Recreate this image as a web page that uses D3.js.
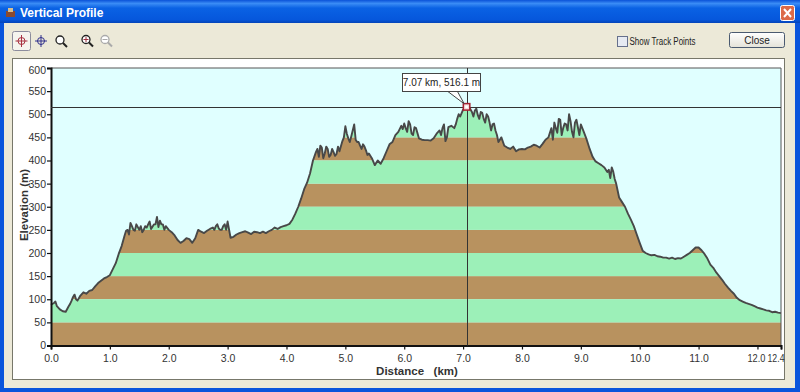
<!DOCTYPE html>
<html>
<head>
<meta charset="utf-8">
<script src="https://cdn.jsdelivr.net/npm/d3@7"></script>
<style>
  html, body { margin: 0; padding: 0; background: #ece9d8; overflow: hidden; }
  svg { display: block; }
  text { font-family: "Liberation Sans", sans-serif; }
</style>
</head>
<body>
<div id="visual"></div>
<script>
// elevation in metres, one reading every 0.05 km
const elevation = [
  88,92,85,78,74,73,85,97,110,97, 108,115,112,118,120,128,135,140,145,148,
  152,165,178,198,215,238,250,265,250,262, 250,245,258,262,252,262,278,270,262,258,
  250,245,238,228,222,226,232,230,222,232, 250,246,243,248,252,255,258,253,250,262,
  268,233,235,240,243,245,247,244,241,246, 245,243,246,243,247,250,255,252,256,258,
  260,263,272,285,300,318,338,352,372,400, 418,408,428,415,425,412,418,414,420,442,
  474,448,452,478,440,432,435,422,415,405, 390,400,393,405,420,435,440,455,462,475,
  480,462,478,455,470,448,445,444,444,443, 448,458,465,470,442,472,475,470,490,495,
  510,512,516,505,508,498,505,490,500,482, 478,465,440,450,432,428,425,430,420,424,
  425,424,428,430,434,432,428,436,445,450, 470,482,460,488,470,478,500,462,482,472,
  478,462,445,425,408,398,394,390,385,375, 362,376,350,320,310,300,285,272,258,240,
  222,205,200,197,195,196,193,192,190,190, 188,190,187,189,188,192,196,200,206,212,
  212,206,198,188,175,168,158,150,142,133, 125,118,112,103,98,95,92,90,88,85,
  82,80,78,76,75,72,73,71,70
];
const distance_step = 0.05;

// extra readings in the rough stretches of the track: [km, m]
const rough_readings = [
  [0.075,95],[0.325,90],[0.375,105],[0.425,100],
  [1.275,248],[1.325,240],[1.375,258],[1.425,248],[1.525,258],[1.575,250],[1.625,255],[1.675,268],
  [1.775,262],[1.825,256],[1.875,262],[1.925,250],
  [2.775,250],[2.825,262],[2.875,250],[2.925,258],[2.975,250],
  [4.525,425],[4.575,432],[4.625,405],[4.675,430],[4.725,408],[4.775,425],[4.825,410],[4.875,430],
  [4.975,450],[5.025,458],[5.075,440],[5.125,465],[5.175,445],[5.225,440],[5.275,425],[5.325,430],[5.375,412],
  [5.975,468],[6.025,470],[6.075,485],[6.125,458],[6.175,472],
  [6.625,455],[6.675,478],[6.725,450],[6.875,478],[6.925,500],
  [7.175,495],[7.225,512],[7.275,490],[7.325,503],[7.375,482],[7.425,495],[7.475,465],[7.525,480],[7.575,455],
  [8.525,445],[8.575,470],[8.625,490],[8.675,455],[8.725,480],[8.775,465],[8.825,485],[8.875,450],[8.925,488],[8.975,455],[9.025,470],
  [9.475,380],[9.525,385],[9.575,360]
];

const x_ticks = [0,1,2,3,4,5,6,7,8,9,10,11,12,12.4];
const y_ticks = [0,50,100,150,200,250,300,350,400,450,500,550,600];

// alternating bands under the profile: [from, to]
const brown_bands = [[0,50],[100,150],[200,250],[300,350],[400,450]];
const green_bands = [[50,100],[150,200],[250,300],[350,400],[450,600]];

const cursor_km = 7.07,
    cursor_m = 516.1;
const cursor_label = "7.07 km, 516.1 m";

const width = 800,
    height = 392;

const svg = d3.select("#visual")
    .append("svg")
    .attr("width", width)
    .attr("height", height);

const defs = svg.append("defs");

let title_grad = defs.append("linearGradient")
    .attr("id", "title_grad")
    .attr("x1", 0).attr("x2", 0).attr("y1", 0).attr("y2", 1);
title_grad.append("stop").attr("offset", "0%").attr("stop-color", "#0a52d8");
title_grad.append("stop").attr("offset", "15%").attr("stop-color", "#3a8cf5");
title_grad.append("stop").attr("offset", "35%").attr("stop-color", "#0a62e4");
title_grad.append("stop").attr("offset", "85%").attr("stop-color", "#0657dc");
title_grad.append("stop").attr("offset", "100%").attr("stop-color", "#0444b8");

let close_grad = defs.append("linearGradient")
    .attr("id", "close_grad")
    .attr("x1", 0).attr("x2", 0).attr("y1", 0).attr("y2", 1);
close_grad.append("stop").attr("offset", "0%").attr("stop-color", "#ffffff");
close_grad.append("stop").attr("offset", "100%").attr("stop-color", "#e4e2d8");

// Window frame
svg.append("rect").attr("width", width).attr("height", height).attr("fill", "#0a55dc");
svg.append("rect").attr("width", width).attr("height", 23).attr("fill", "url(#title_grad)");
svg.append("rect")
    .attr("x", 4).attr("y", 23)
    .attr("width", 791).attr("height", 365)
    .attr("fill", "#ece9d8");

svg.append("text")
    .attr("x", 20).attr("y", 17)
    .attr("fill", "white")
    .style("font-size", "12px")
    .style("font-weight", "bold")
    .text("Vertical Profile");

// Window icon
svg.append("rect").attr("x", 6).attr("y", 11).attr("width", 9).attr("height", 6).attr("fill", "#8a4a30");
svg.append("rect").attr("x", 8).attr("y", 8).attr("width", 5).attr("height", 4).attr("fill", "#d8c090");

// Window close button
svg.append("rect")
    .attr("x", 780.5).attr("y", 5.5)
    .attr("width", 14).attr("height", 15).attr("rx", 2)
    .attr("fill", "#dc6a48").attr("stroke", "white");
svg.append("path")
    .attr("d", "M784 9L791 17M791 9L784 17")
    .attr("stroke", "white").attr("stroke-width", 2);

// Toolbar
svg.append("rect")
    .attr("x", 12.5).attr("y", 31.5)
    .attr("width", 18).attr("height", 19).attr("rx", 2)
    .attr("fill", "#f5f4ee").attr("stroke", "#8c8c9c");

function crosshair(cx, cy, color) {
    svg.append("circle")
        .attr("cx", cx).attr("cy", cy).attr("r", 3.5)
        .attr("fill", "none").attr("stroke", color);
    svg.append("path")
        .attr("d", `M${cx - 6} ${cy}H${cx + 6}M${cx} ${cy - 6}V${cy + 6}`)
        .attr("stroke", color);
}
crosshair(21.5, 41, "#a83040");
crosshair(41, 41, "#30308c");

function magnifier(cx, cy, color, sign) {
    svg.append("circle")
        .attr("cx", cx).attr("cy", cy).attr("r", 4)
        .attr("fill", "white").attr("stroke", color).attr("stroke-width", 1.3);
    svg.append("path")
        .attr("d", `M${cx + 3} ${cy + 3}L${cx + 7} ${cy + 7}`)
        .attr("stroke", color).attr("stroke-width", 2);
    if (sign) {
        svg.append("path").attr("d", sign).attr("transform", `translate(${cx},${cy})`)
            .attr("stroke", color === "#222" ? "#a03040" : color);
    }
}
magnifier(60, 40, "#222", null);
magnifier(86, 39.5, "#222", "M-2.5 0H2.5M0 -2.5V2.5");
magnifier(105, 39.5, "#aaa", "M-2.5 0H2.5");

// Show Track Points checkbox
svg.append("rect")
    .attr("x", 617.5).attr("y", 36.5)
    .attr("width", 10).attr("height", 10)
    .attr("fill", "#e6eaf2").attr("stroke", "#66708c");
svg.append("text")
    .attr("x", 629.5).attr("y", 45)
    .attr("fill", "#222")
    .attr("textLength", 66)
    .attr("lengthAdjust", "spacingAndGlyphs")
    .style("font-size", "10px")
    .text("Show Track Points");

// Close button
svg.append("rect")
    .attr("x", 729.5).attr("y", 32.5)
    .attr("width", 55).attr("height", 15).attr("rx", 2)
    .attr("fill", "url(#close_grad)").attr("stroke", "#4a5a70");
svg.append("text")
    .attr("x", 757).attr("y", 44)
    .attr("text-anchor", "middle")
    .attr("fill", "#222")
    .style("font-size", "10px")
    .text("Close");

// White chart panel
svg.append("rect")
    .attr("x", 12.5).attr("y", 58.5)
    .attr("width", 772).attr("height", 321)
    .attr("fill", "white").attr("stroke", "#77776a");

let margin = { top: 68, bottom: 345.5, left: 51, right: 781 };

let xScale = d3.scaleLinear()
    .domain([0, 12.4])
    .range([margin.left, margin.right]);

let yScale = d3.scaleLinear()
    .domain([0, 600])
    .range([margin.bottom, margin.top]);

const profile = elevation.map((d, i) => [i * distance_step, d])
    .concat(rough_readings)
    .sort((a, b) => a[0] - b[0]);

// Plot background
svg.append("rect")
    .attr("x", margin.left).attr("y", margin.top)
    .attr("width", margin.right - margin.left)
    .attr("height", margin.bottom - margin.top)
    .attr("fill", "#e0ffff");

// Bands are clipped to the area under the profile
let areaGenerator = d3.area()
    .x(d => xScale(d[0]))
    .y0(yScale(0))
    .y1(d => yScale(d[1]));

defs.append("clipPath")
    .attr("id", "under_profile")
    .append("path")
    .attr("d", areaGenerator(profile));

let bands = svg.append("g").attr("clip-path", "url(#under_profile)");

function drawBands(list, color) {
    bands.append("g")
        .attr("fill", color)
        .selectAll("rect")
        .data(list)
        .enter()
        .append("rect")
        .attr("x", margin.left)
        .attr("width", margin.right - margin.left)
        .attr("y", d => yScale(d[1]))
        .attr("height", d => yScale(d[0]) - yScale(d[1]));
}
drawBands(brown_bands, "#b8925f");
drawBands(green_bands, "#9cf0b8");

// Profile line
let line_profile = d3.line()
    .x(d => xScale(d[0]))
    .y(d => yScale(d[1]));

svg.append("path")
    .attr("d", line_profile(profile))
    .attr("fill", "none")
    .attr("stroke", "#484848")
    .style("stroke-width", 1.9)
    .style("stroke-linejoin", "round");

// Plot frame on the top and right
svg.append("path")
    .attr("d", `M${margin.left} ${margin.top}H${margin.right}V${margin.bottom}`)
    .attr("fill", "none")
    .attr("stroke", "#555");

// Axes
let xAxis = d3.axisBottom(xScale)
    .tickValues(x_ticks)
    .tickFormat(d3.format(".1f"))
    .tickSizeOuter(0)
    .tickSize(4)
    .tickPadding(5);

let yAxis = d3.axisLeft(yScale)
    .tickValues(y_ticks)
    .tickSizeOuter(0)
    .tickSize(4)
    .tickPadding(1);

let gx = svg.append("g")
    .attr("transform", `translate(0,${margin.bottom})`)
    .call(xAxis);
let gy = svg.append("g")
    .attr("transform", `translate(${margin.left},0)`)
    .call(yAxis);

[gx, gy].forEach(g => {
    g.selectAll("text")
        .attr("fill", "#333")
        .style("font-family", '"Liberation Sans", sans-serif')
        .style("font-size", "10.5px");
    g.select(".domain").attr("stroke", "#111").attr("stroke-width", 2);
    g.selectAll(".tick line").attr("stroke", "#111").attr("stroke-width", 1.2);
});

// The end labels are squeezed and pushed inside, as in the original control
gx.selectAll("text").filter(d => d === 12)
    .attr("dx", -1.5)
    .attr("textLength", 18)
    .attr("lengthAdjust", "spacingAndGlyphs");
gx.selectAll("text").filter(d => d === 12.4)
    .attr("dx", -5.5)
    .attr("textLength", 17)
    .attr("lengthAdjust", "spacingAndGlyphs");
gy.selectAll("text").filter(d => d === 600).attr("dy", "0.55em");

// Axis titles
svg.append("text")
    .attr("x", 417).attr("y", 375)
    .attr("text-anchor", "middle")
    .attr("fill", "#333")
    .style("font-size", "11.5px")
    .style("font-weight", "bold")
    .style("white-space", "pre")
    .text("Distance   (km)");

svg.append("text")
    .attr("transform", "translate(28,205) rotate(-90)")
    .attr("text-anchor", "middle")
    .attr("fill", "#333")
    .style("font-size", "11.5px")
    .style("font-weight", "bold")
    .text("Elevation (m)");

// Cursor lines
const cx = xScale(cursor_km),
    cy = yScale(cursor_m);

svg.append("path")
    .attr("d", `M${margin.left} ${Math.round(cy) + 0.5}H${margin.right}M${Math.floor(cx) + 0.5} ${margin.top}V${margin.bottom}`)
    .attr("stroke", "#333")
    .attr("fill", "none");

// Cursor marker
svg.append("rect")
    .attr("x", cx - 3.9).attr("y", cy - 3.2)
    .attr("width", 6.5).attr("height", 6.5)
    .attr("fill", "#f4d8d8").attr("stroke", "#a82030").attr("stroke-width", 1.5);
svg.append("circle")
    .attr("cx", cx - 0.6).attr("cy", cy).attr("r", 1.5)
    .attr("fill", "white");

// Cursor callout
svg.append("path")
    .attr("d", `M${cx - 20} 91L${cx - 3} ${cy - 3}L${cx - 10} 91`)
    .attr("fill", "white")
    .attr("stroke", "#444");
svg.append("rect")
    .attr("x", 402.5).attr("y", 73.5)
    .attr("width", 78).attr("height", 18)
    .attr("fill", "white")
    .attr("stroke", "#444");
svg.append("text")
    .attr("x", 441.5).attr("y", 86)
    .attr("text-anchor", "middle")
    .attr("fill", "#222")
    .style("font-size", "10px")
    .text(cursor_label);
</script>
</body>
</html>
